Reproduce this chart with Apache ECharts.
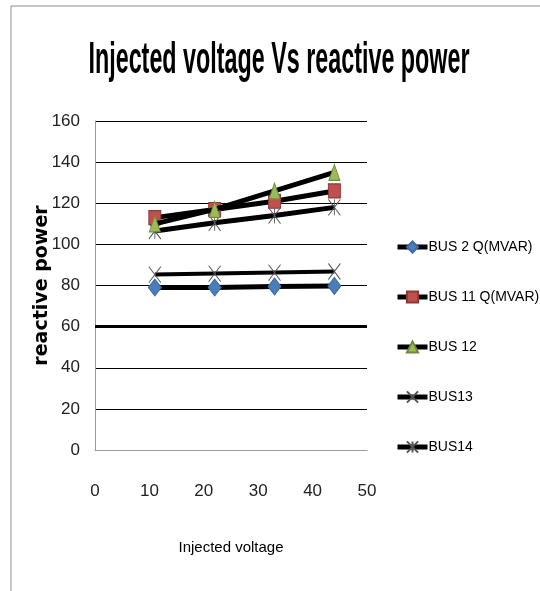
<!DOCTYPE html>
<html>
<head>
<meta charset="utf-8">
<script src="https://cdn.jsdelivr.net/npm/echarts@6/dist/echarts.min.js"></script>
<style>
  html, body { margin: 0; padding: 0; background: #fff; }
  #chart { width: 540px; height: 591px; }
</style>
</head>
<body>
<div id="chart"></div>
<script>
// injected voltage values (x)
var voltage = [11, 22, 33, 44];

// reactive power per bus
var bus2 = [79, 79, 79.5, 79.8];
var bus11 = [113, 117, 121, 126];
var bus12 = [110, 117, 126, 135];
var bus13 = [85.3, 85.8, 86.3, 86.8];
var bus14 = [106.5, 110.5, 114, 118];

var seriesNames = ["BUS 2 Q(MVAR)", "BUS 11 Q(MVAR)", "BUS 12", "BUS13", "BUS14"];

var xTicks = { min: 0, max: 50, step: 10 };
var yTicks = { min: 0, max: 160, step: 20 };

var sans = "'Liberation Sans', Arial, sans-serif";

function pairs(vals) {
  return vals.map(function (v, i) { return [voltage[i], v]; });
}

var xMark = "path://M0,0L10,14M10,0L0,14";
var starMark = "path://M0,0L10,14M10,0L0,14M5,0L5,14";

var chartDom = document.getElementById("chart");
var myChart = echarts.init(chartDom);

var option = {
  animation: false,
  graphic: [
    {
      type: "rect",
      shape: { x: 11, y: 6, width: 560, height: 620 },
      style: { fill: "none", stroke: "#8c8c8c", lineWidth: 1 },
    },
    {
      // title squeezed sideways like the narrow original font
      type: "text",
      x: 279,
      y: 61,
      scaleX: 0.53,
      style: {
        text: "Injected voltage Vs reactive power",
        font: "bold 44px 'Liberation Sans', Arial, sans-serif",
        fill: "#000",
        align: "center",
        verticalAlign: "middle",
      },
    },
  ],
  grid: { left: 95, right: 173, top: 121, bottom: 141 },
  legend: {
    orient: "vertical",
    left: 390,
    top: 235,
    itemGap: 36,
    itemWidth: 30,
    itemHeight: 14,
    lineStyle: { width: 5 },
    textStyle: { fontFamily: sans, fontSize: 14, color: "#000", padding: [0, 0, 0, -4] },
    data: seriesNames,
  },
  xAxis: {
    type: "value",
    min: xTicks.min,
    max: xTicks.max,
    interval: xTicks.step,
    name: "Injected voltage",
    nameLocation: "middle",
    nameGap: 90,
    nameTextStyle: { fontFamily: sans, fontSize: 15, color: "#000" },
    axisLine: { lineStyle: { color: "#999" } },
    axisTick: { show: false },
    axisLabel: { fontFamily: sans, fontSize: 17, color: "#222", margin: 33 },
    splitLine: { show: false },
  },
  yAxis: {
    type: "value",
    min: yTicks.min,
    max: yTicks.max,
    interval: yTicks.step,
    name: "reactive power",
    nameLocation: "middle",
    nameGap: 43,
    nameMoveOverlap: false,
    nameTextStyle: { fontFamily: "'DejaVu Sans', sans-serif", fontSize: 19, fontWeight: "bold", color: "#000" },
    axisLine: { show: true, lineStyle: { color: "#999" } },
    axisTick: { show: false },
    axisLabel: { fontFamily: sans, fontSize: 17, color: "#222", margin: 15 },
    splitLine: { show: true, lineStyle: { color: "#000", width: 1 } },
  },
  series: [
    {
      name: seriesNames[0],
      type: "line",
      data: pairs(bus2),
      symbol: "diamond",
      symbolSize: [13, 17],
      lineStyle: { color: "#000", width: 5 },
      itemStyle: { color: "#4a7ebb", borderColor: "#3a6aa0", borderWidth: 1 },
      z: 3,
      markLine: {
        silent: true,
        symbol: "none",
        label: { show: false },
        lineStyle: { color: "#000", width: 3, type: "solid" },
        data: [{ yAxis: 60 }],
      },
    },
    {
      name: seriesNames[1],
      type: "line",
      data: pairs(bus11),
      symbol: "rect",
      symbolSize: [12, 14],
      lineStyle: { color: "#000", width: 5 },
      itemStyle: { color: "#c0504d", borderColor: "#8c3836", borderWidth: 1 },
      z: 3,
    },
    {
      name: seriesNames[2],
      type: "line",
      data: pairs(bus12),
      symbol: "triangle",
      symbolSize: [11, 16],
      lineStyle: { color: "#000", width: 5 },
      itemStyle: { color: "#9bbb59", borderColor: "#6f8a3c", borderWidth: 1 },
      z: 4,
    },
    {
      name: seriesNames[3],
      type: "line",
      data: pairs(bus13),
      symbol: xMark,
      symbolSize: [12, 16],
      lineStyle: { color: "#000", width: 4 },
      itemStyle: { color: "transparent", borderColor: "#555", borderWidth: 1 },
      z: 3,
    },
    {
      name: seriesNames[4],
      type: "line",
      data: pairs(bus14),
      symbol: starMark,
      symbolSize: [12, 16],
      lineStyle: { color: "#000", width: 5 },
      itemStyle: { color: "transparent", borderColor: "#555", borderWidth: 1 },
      z: 2,
    },
  ],
};

myChart.setOption(option);
</script>
</body>
</html>
